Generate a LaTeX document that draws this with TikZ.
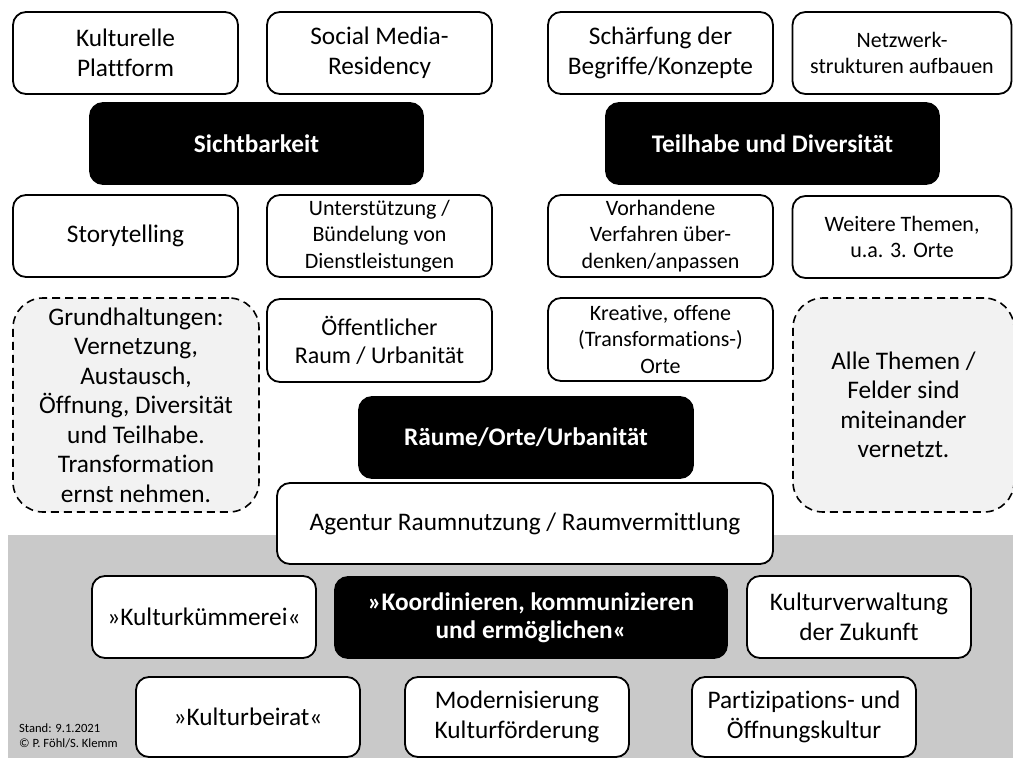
\documentclass[tikz,border=0pt]{standalone}
\usepackage{fontspec}
\setmainfont{Carlito}[Ligatures=CommonOff]
\begin{document}
\begin{tikzpicture}[x=1pt,y=-1pt,
  card/.style={draw=black, fill=white, line width=1.8pt, rounded corners=13pt,
    align=center, inner sep=0pt, minimum width=225pt, minimum height=82pt,
    font=\fontsize{25.3}{30}\selectfont},
  smalltext/.style={font=\fontsize{22}{26.5}\selectfont},
  keycard/.style={card, fill=black, text=white, minimum width=333pt, minimum height=81pt,
    font=\fontsize{25.3}{28}\selectfont\bfseries},
  notecard/.style={card, fill=black!5, line width=1.6pt, dash pattern=on 8pt off 5pt,
    rounded corners=30pt, minimum height=214pt, font=\fontsize{25.3}{29.5}\selectfont},
  band/.style={fill=black!21, draw=none}
]
\useasboundingbox (0,0) rectangle (1013,758);
\fill[white] (0,0) rectangle (1013,758);
\clip (0,0) rectangle (1013,758);

% grey base band behind the bottom rows
\fill[band] (8,535) rectangle (1013,758);

% Sichtbarkeit cluster
\node[card] (plattform) at (125.5,53) {Kulturelle\\Plattform};
\node[card] (social) at (379.5,53) {Social Media-\\Residency};
\node[keycard] (sicht) at (256.5,143.5) {Sichtbarkeit};
\node[card] (story) at (125.5,236) {\raisebox{-2pt}{Storytelling}};
\node[card, smalltext] (unterst) at (379.5,236) {Unterstützung /\\Bündelung von\\Dienstleistungen};

% Teilhabe cluster
\node[card] (schaerf) at (660.5,53) {Schärfung der\\Begriffe/Konzepte};
\node[card, smalltext, minimum width=219pt] (netz) at (902,53) {Netzwerk-\\strukturen aufbauen};
\node[keycard] (teilhabe) at (772.5,143.5) {Teilhabe und Diversität};
\node[card, smalltext] (vorh) at (660.5,236) {Vorhandene\\Verfahren über-\\denken/anpassen};
\node[card, smalltext, minimum width=219pt] (weitere) at (902,237) {Weitere Themen,\\u.a. 3. Orte};

% notes on both sides
\node[notecard, minimum width=246pt] (grund) at (136,405)
  {Grundhaltungen:\\Vernetzung,\\Austausch,\\Öffnung, Diversität\\und Teilhabe.\\Transformation\\ernst nehmen.};
\node[notecard, minimum width=221pt] (alle) at (903.5,405)
  {Alle Themen /\\Felder sind\\miteinander\\vernetzt.};

% Räume cluster
\node[card, minimum height=83pt, font=\fontsize{24}{28.5}\selectfont] (oeff) at (379.5,340.5) {Öffentlicher\\Raum / Urbanität};
\node[card, minimum height=83pt, smalltext] (kreativ) at (660.5,339.5) {Kreative, offene\\(Transformations-)\\Orte};
\node[keycard, minimum width=334pt] (raeume) at (526,437.5) {Räume/Orte/Urbanität};
\node[card, minimum width=496pt, minimum height=81pt] (agentur) at (525,523.5) {Agentur Raumnutzung / Raumvermittlung};

% base rows
\node[card, minimum width=224pt] (kuemmerei) at (204,617) {»Kulturkümmerei«};
\node[keycard, minimum width=392pt] (koord) at (531,617.5) {»Koordinieren, kommunizieren\\und ermöglichen«};
\node[card, minimum width=224pt] (verwaltung) at (859,617) {Kulturverwaltung\\der Zukunft};
\node[card, minimum width=224pt, minimum height=80pt] (beirat) at (248,717) {»Kulturbeirat«};
\node[card, minimum width=224pt, minimum height=80pt] (modern) at (517,717) {Modernisierung\\Kulturförderung};
\node[card, minimum width=224pt, minimum height=80pt] (partiz) at (804,717) {Partizipations- und\\Öffnungskultur};

% date and authors
\node[anchor=west, align=left, inner sep=0pt, font=\fontsize{12.6}{15}\selectfont] (stand) at (19,735.5)
  {Stand: 9.1.2021\\© P. Föhl/S. Klemm};
\end{tikzpicture}
\end{document}
